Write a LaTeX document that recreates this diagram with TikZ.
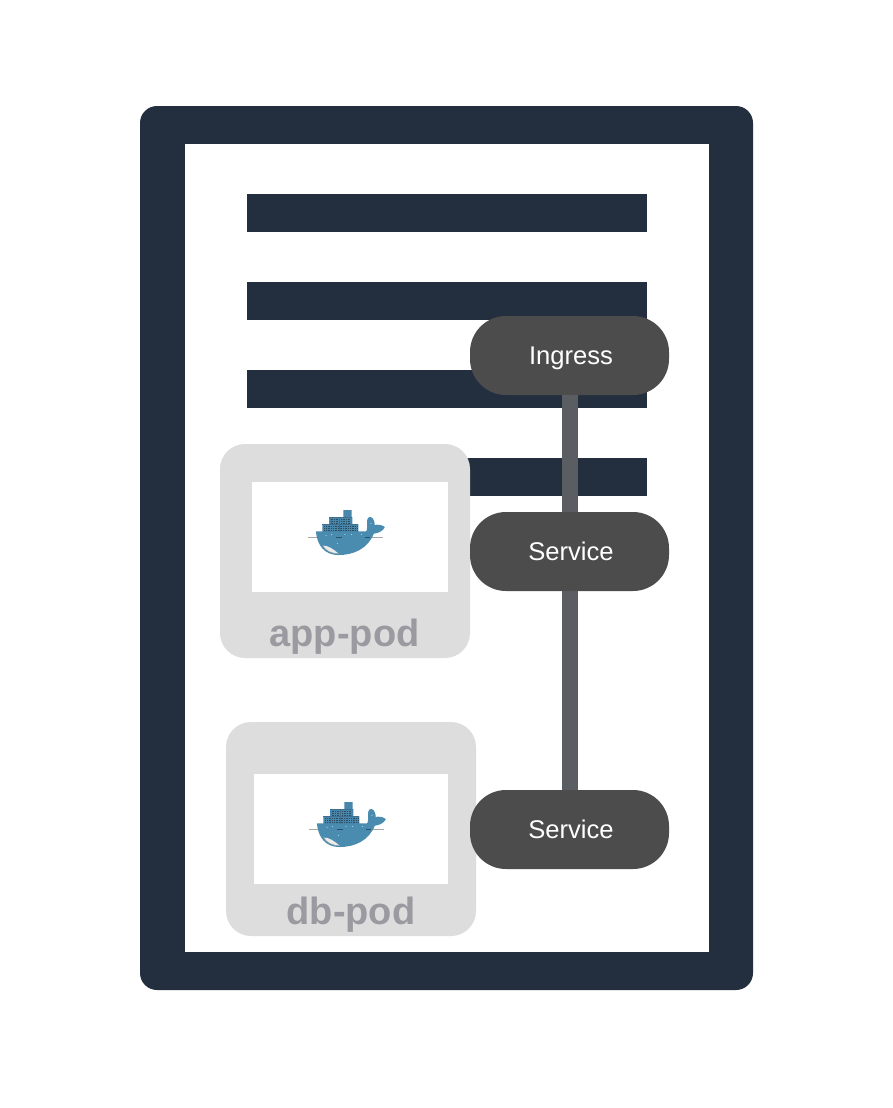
\documentclass[tikz,border=0pt]{standalone}
\usepackage{fontspec}
\setmainfont{Liberation Sans}
\definecolor{navy}{HTML}{232F3E}
\definecolor{svc}{HTML}{4C4C4C}
\definecolor{wire}{HTML}{5A5E63}
\definecolor{podbg}{HTML}{DDDDDD}
\definecolor{podtxt}{HTML}{9A9AA0}
\definecolor{whale}{HTML}{4A8BB0}
\definecolor{whaledark}{HTML}{3F6F8E}
\tikzset{
  box/.style={rectangle,draw=none,inner sep=0pt,outer sep=0pt},
  framebox/.style={box,fill=navy,rounded corners=17pt,minimum width=613pt,minimum height=884pt},
  paper/.style={box,fill=white,minimum width=524pt,minimum height=808pt},
  bar/.style={box,fill=navy,minimum width=400pt,minimum height=38pt},
  podbox/.style={box,fill=podbg,rounded corners=25pt,minimum width=250pt,minimum height=214pt},
  podwin/.style={box,fill=white,minimum height=110pt},
  podlabel/.style={box,text=podtxt,font=\fontsize{38}{38}\selectfont\bfseries},
  svcbox/.style={box,fill=svc,text=white,rounded corners=36pt,minimum width=199pt,minimum height=79pt,text height=22pt,text depth=5pt,font=\fontsize{25.6}{26}\selectfont},
  wireline/.style={draw=wire,line width=16pt},
  pics/dockerwhale/.style={code={
    \begin{scope}[x=0.3333pt,y=-0.3333pt]
      \draw[gray!70,line width=1pt] (55,126) -- (85,126) (245,126) -- (280,126);
      \filldraw[draw=whale,fill=whale,line width=1.4pt,line join=round] (80,111) -- (230,111) .. controls (236,103) and (232,85) .. (234,74)
        .. controls (236,64) and (248,68) .. (250,78) .. controls (253,84) and (252,90) .. (252,93)
        .. controls (262,89) and (276,92) .. (282,97) .. controls (276,108) and (262,113) .. (250,114)
        .. controls (232,160) and (190,178) .. (145,178) .. controls (105,178) and (84,150) .. (80,111) -- cycle;
      \fill[whale!85!whaledark] (97,88) rectangle (205,111) (117,66) rectangle (187,88) (160,45) rectangle (185,66);
      \draw[whaledark!70!black,line width=0.7pt,densely dotted]
        (103,94) -- (200,94) (103,100) -- (200,100) (103,106) -- (200,106)
        (122,72) -- (182,72) (122,78) -- (182,78) (122,84) -- (182,84);
      \draw[whaledark,line width=0.7pt] (97,88) -- (205,88) (117,66) -- (187,66) (148,66) -- (148,111);
      \fill[white!85!gray] (98,152) .. controls (112,150) and (130,162) .. (146,176) .. controls (125,176) and (108,168) .. (98,152) -- cycle;
      \draw[gray!80,line width=0.4pt] (98,152) .. controls (108,168) and (125,176) .. (146,176);
      \draw[whaledark!70!black,line width=1pt] (138,126) -- (155,126) (225,126) -- (240,126);
      \fill[white] (108,122) circle (1.4) (125,119) circle (1.4) (165,118) circle (1.4) (185,118) circle (1.4) (215,118) circle (1.4) (142,145) circle (1.4) (243,85) circle (1.4);
    \end{scope}
  }},
}
\begin{document}
\begin{tikzpicture}[x=1pt,y=-1pt]
  \useasboundingbox (0,0) rectangle (892,1108);
  \fill[white] (0,0) rectangle (892,1108);
  \node[framebox] (frame) at (446.5,548) {};
  \node[paper] (sheet) at (447,548) {};
  \node[bar] (bar1) at (447,213) {};
  \node[bar] (bar2) at (447,301) {};
  \node[bar] (bar3) at (447,389) {};
  \node[bar] (bar4) at (447,477) {};

  \node[podbox] (apppod) at (345,551) {};
  \node[podwin,minimum width=196pt] (appwin) at (350,537) {};
  \node[podlabel] (applabel) at (344.5,637) {app-pod};
  \pic at (290,495) {dockerwhale};

  \node[podbox] (dbpod) at (351,829) {};
  \node[podwin,minimum width=194pt] (dbwin) at (351,829) {};
  \node[podlabel] (dblabel) at (351,915) {db-pod};
  \pic at (291,787) {dockerwhale};

  \node[svcbox] (ingress) at (569.5,355.5) {\hspace{3pt}Ingress};
  \node[svcbox] (svc1) at (569.5,551.5) {\hspace{3pt}Service};
  \node[svcbox] (svc2) at (569.5,829.5) {\hspace{3pt}Service};

  \draw[wireline] (ingress) -- (svc1);
  \draw[wireline] (svc1) -- (svc2);
\end{tikzpicture}
\end{document}
